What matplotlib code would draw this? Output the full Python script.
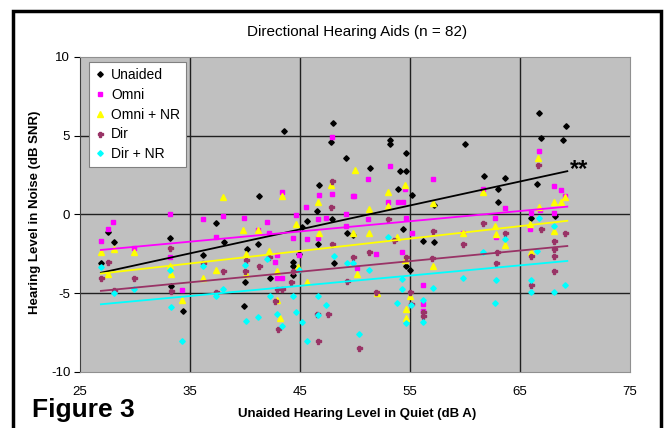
import matplotlib
matplotlib.use("Agg")
import matplotlib.pyplot as plt
from matplotlib.lines import Line2D
from matplotlib.patches import Rectangle

plt.rcParams['font.family'] = ['Liberation Sans', 'DejaVu Sans']
plt.rcParams['axes.unicode_minus'] = False

# ---------------- data ----------------
unaided_x = [26.9, 27.5, 28.1, 33.2, 33.3, 34.4, 36.2, 37.4, 38.1, 40.2, 40.0, 39.9, 41.3, 41.2,
             42.3, 43.5, 44.4, 44.4, 44.9, 44.4, 45.2, 45.6, 46.5, 46.7, 46.6, 47.8, 48.0, 47.9,
             48.1, 49.2, 49.3, 49.8, 51.4, 53.2, 53.2, 53.9, 54.1, 54.6, 54.6, 55.2, 54.4, 54.6,
             55.0, 56.2, 57.2, 57.2, 60.0, 61.7, 63.0, 63.0, 63.6, 66.0, 66.5, 66.7, 66.9, 68.2,
             68.9, 69.2]
unaided_y = [-3.1, -1.1, -1.75, -1.5, -4.55, -6.15, -2.55, -0.55, -1.75, -2.2, -4.3, -5.8, 1.2, -1.9,
             -4.05, 5.3, -3.0, -3.3, -2.5, -3.85, -0.8, -0.4, 0.25, 1.9, -1.9, 4.6, 5.8, -0.3,
             -3.1, 3.6, -1.2, -1.3, 2.95, 4.7, 4.45, 1.65, 2.75, 2.75, 3.9, 1.25, -0.9, -3.3,
             -3.55, -1.7, 0.6, -1.75, 4.5, 2.45, 1.65, 0.8, 2.3, -0.2, 1.95, 6.45, 4.85, -0.1,
             4.7, 5.65]

omni_x = [26.9, 27.5, 28.0, 29.9, 33.2, 33.2, 34.3, 36.2, 37.4, 38.0, 39.9, 41.2, 42.0, 42.2,
          42.9, 42.7, 42.9, 43.4, 43.4, 44.4, 44.6, 44.9, 45.5, 45.6, 46.6, 46.6, 46.7, 47.4,
          47.9, 47.9, 49.2, 49.2, 49.8, 49.9, 50.2, 51.2, 51.2, 51.9, 53.2, 53.0, 53.9, 54.4,
          54.5, 54.6, 54.3, 55.2, 56.2, 56.2, 56.2, 57.1, 59.8, 61.6, 62.7, 62.8, 63.6, 65.9,
          66.0, 66.7, 66.8, 68.1, 68.7, 69.1, 68.1]
omni_y = [-1.7, -0.9, -0.5, -2.1, 0.0, -2.7, -4.8, -0.3, -1.4, -0.1, -0.2, -1.0, -0.5, -1.2,
          -2.6, -3.0, -4.0, -4.0, 1.45, -1.5, -0.05, -2.6, 0.5, -1.55, -0.3, -1.5, 1.25, -0.2,
          4.95, 1.3, 0.05, -0.75, 1.15, 1.2, -3.4, 2.25, -0.3, -2.5, 3.1, 0.8, 0.8, 0.8,
          1.6, -0.2, -2.4, -1.2, -4.5, -5.7, -6.1, 2.25, -1.2, 1.6, -0.2, -1.4, 0.4, -0.9,
          0.1, 4.0, 0.3, 1.8, 1.55, 1.2, 0.1]

omni_nr_x = [26.9, 27.5, 28.1, 29.9, 33.2, 33.3, 34.3, 36.2, 37.4, 38.0, 39.8, 40.1, 40.1, 41.2,
             42.2, 42.9, 42.9, 43.4, 43.2, 44.6, 45.6, 44.8, 46.6, 47.8, 46.7, 49.8, 50.0, 50.2,
             51.3, 51.3, 52.0, 53.0, 53.0, 53.8, 54.5, 54.5, 55.0, 54.6, 54.6, 57.1, 57.1, 59.8,
             61.6, 62.7, 62.8, 63.6, 65.9, 66.0, 66.6, 66.7, 68.1, 68.7, 69.1, 68.1]
omni_nr_y = [-2.4, -3.75, -2.2, -2.4, -3.3, -3.75, -5.45, -4.05, -3.5, 1.1, -1.0, -3.8, -2.5, -1.0,
             -2.3, -3.6, -5.4, 1.2, -6.6, -0.6, -4.3, -3.35, 0.8, 1.9, -1.2, -1.2, 2.8, -3.8,
             0.35, -1.2, -5.0, 1.4, 0.55, -1.4, 1.9, -2.9, -5.2, -6.0, -6.6, 0.75, -3.3, -1.2,
             1.4, -0.75, -1.25, -1.95, -0.6, -2.4, 3.6, 0.5, 0.8, 0.8, 1.1, -1.05]

dir_x = [26.9, 27.5, 28.1, 29.9, 33.2, 33.3, 36.2, 37.4, 38.0, 40.1, 40.0, 41.3, 42.2, 42.7,
         42.9, 43.0, 43.4, 44.2, 44.4, 46.5, 46.6, 47.5, 47.9, 47.8, 47.9, 49.8, 49.3, 50.4,
         51.3, 51.9, 53.0, 53.5, 54.6, 55.0, 55.1, 56.2, 56.2, 57.1, 57.0, 59.8, 61.6, 62.9,
         62.8, 63.6, 66.0, 66.0, 66.6, 66.9, 68.1, 68.1, 68.1, 68.1, 69.1]
dir_y = [-4.05, -3.0, -4.8, -4.0, -2.1, -4.85, -3.1, -4.9, -3.6, -2.9, -3.6, -3.3, -2.7, -5.5,
         -4.7, -7.3, -4.7, -4.3, -3.6, -6.3, -8.05, -6.3, 2.15, 0.5, -1.9, -2.7, -4.25, -8.45,
         -2.4, -4.95, -0.3, -1.6, -2.7, -4.9, -5.7, -6.2, -6.45, -1.05, -2.75, -1.9, -0.55, -2.4,
         -3.1, -1.2, -2.65, -4.5, 3.15, -0.95, -1.7, -2.2, -2.65, -3.6, -1.15]

dir_nr_x = [26.9, 28.1, 29.9, 33.2, 33.3, 34.3, 36.2, 37.4, 38.0, 40.0, 40.1, 41.2, 42.0, 42.3,
            42.9, 43.4, 44.4, 44.9, 44.6, 45.2, 45.6, 46.6, 46.6, 47.4, 48.1, 49.3, 49.8, 50.4,
            51.3, 53.0, 53.8, 54.3, 54.3, 55.1, 54.6, 56.2, 56.2, 57.1, 59.8, 61.6, 62.7, 62.8,
            63.6, 66.0, 66.0, 66.5, 66.7, 68.1, 68.1, 69.1]
dir_nr_y = [-3.35, -5.0, -4.7, -3.55, -5.9, -8.05, -3.3, -5.2, -4.7, -3.2, -6.75, -6.5, -2.8, -5.15,
            -6.3, -7.05, -5.15, -3.55, -6.2, -6.8, -8.0, -5.2, -6.4, -5.75, -2.65, -3.05, -3.05, -7.6,
            -3.5, -1.4, -5.6, -4.1, -4.7, -5.75, -6.9, -5.4, -6.8, -4.65, -4.05, -2.35, -5.6, -4.15,
            -1.55, -4.15, -4.95, -2.3, -0.2, -0.75, -4.95, -4.5]

# trend lines: x range and end values
trend_x = [26.9, 69.3]
trend_unaided = [-3.7, 2.75]
trend_omni = [-2.25, 0.5]
trend_omni_nr = [-3.75, -0.4]
trend_dir = [-4.85, -2.0]
trend_dir_nr = [-5.7, -2.95]

series_labels = ["Unaided", "Omni", "Omni + NR", "Dir", "Dir + NR"]
x_ticks = [25, 35, 45, 55, 65, 75]
y_ticks = [-10, -5, 0, 5, 10]

# ---------------- figure ----------------
W, H = 665, 428
fig = plt.figure(figsize=(W / 100, H / 100), dpi=100)
fig.patch.set_facecolor("white")
ax = fig.add_axes([80 / W, 1 - 372 / H, 550 / W, 315 / H])
ax.set_facecolor("#C0C0C0")
ax.set_xlim(25, 75)
ax.set_ylim(-10, 10)
ax.set_xticks(x_ticks)
ax.set_yticks(y_ticks)
for g in x_ticks[1:-1]:
    ax.axvline(g, color="#202020", lw=1.0, zorder=1)
for g in y_ticks[1:-1]:
    ax.axhline(g, color="#202020", lw=1.0, zorder=1)

ax.tick_params(axis="y", direction="out", length=4, width=0.8, labelsize=9.5, pad=3)
ax.tick_params(axis="x", length=0, labelsize=9.5, pad=10)
for s in ["top", "right"]:
    ax.spines[s].set_color("#909090")
    ax.spines[s].set_linewidth(0.8)
ax.spines["left"].set_color("#404040")
ax.spines["bottom"].set_color("#909090")

styles = [
    dict(color="black", marker="D", ms=2.8),
    dict(color="#FF00FF", marker="s", ms=3.4),
    dict(color="#FFFF00", marker="^", ms=4.0),
    dict(color="#993366", marker="P", ms=3.6),
    dict(color="#00FFFF", marker="D", ms=2.8),
]
data = [(unaided_x, unaided_y), (omni_x, omni_y), (omni_nr_x, omni_nr_y),
        (dir_x, dir_y), (dir_nr_x, dir_nr_y)]
trends = [trend_unaided, trend_omni, trend_omni_nr, trend_dir, trend_dir_nr]

handles = []
for (xs, ys), st, tr, lab in zip(data, styles, trends, series_labels):
    ax.plot(xs, ys, linestyle="none", marker=st["marker"], ms=st["ms"],
            color=st["color"], mec=st["color"], zorder=3)
    ax.plot(trend_x, tr, color=st["color"], lw=1.3, zorder=4)
    handles.append(Line2D([], [], linestyle="none", marker=st["marker"],
                          ms=st["ms"], color=st["color"], mec=st["color"]))

ax.text(69.5, 2.85, "**", fontsize=17, fontweight="bold", ha="left", va="center", zorder=5)

leg = ax.legend(handles, series_labels, loc="upper left", bbox_to_anchor=(0.016, 0.983),
                fontsize=10, frameon=True, fancybox=False, framealpha=1,
                edgecolor="#808080", borderpad=0.4, labelspacing=0.42,
                handlelength=0.8, handletextpad=0.4, borderaxespad=0)
leg.get_frame().set_linewidth(0.8)
leg.set_zorder(6)

fig.text(357 / W, 1 - 32 / H, "Directional Hearing Aids (n = 82)", fontsize=11,
         ha="center", va="center")
fig.text(357 / W, 1 - 414 / H, "Unaided Hearing Level in Quiet (dB A)", fontsize=9.5,
         fontweight="bold", ha="center", va="center")
fig.text(35 / W, 1 - 212 / H, "Hearing Level in Noise (dB SNR)", fontsize=9.5,
         fontweight="bold", ha="center", va="center", rotation=90)
fig.text(32 / W, 1 - 410 / H, "Figure 3", fontsize=19, fontweight="bold",
         ha="left", va="center")

fig.patches.append(Rectangle((13 / W, -0.05), (661 - 13) / W, 1.05 - 11 / H,
                             transform=fig.transFigure, fill=False,
                             edgecolor="black", lw=2.5))

fig.savefig("out.png", dpi=100)
